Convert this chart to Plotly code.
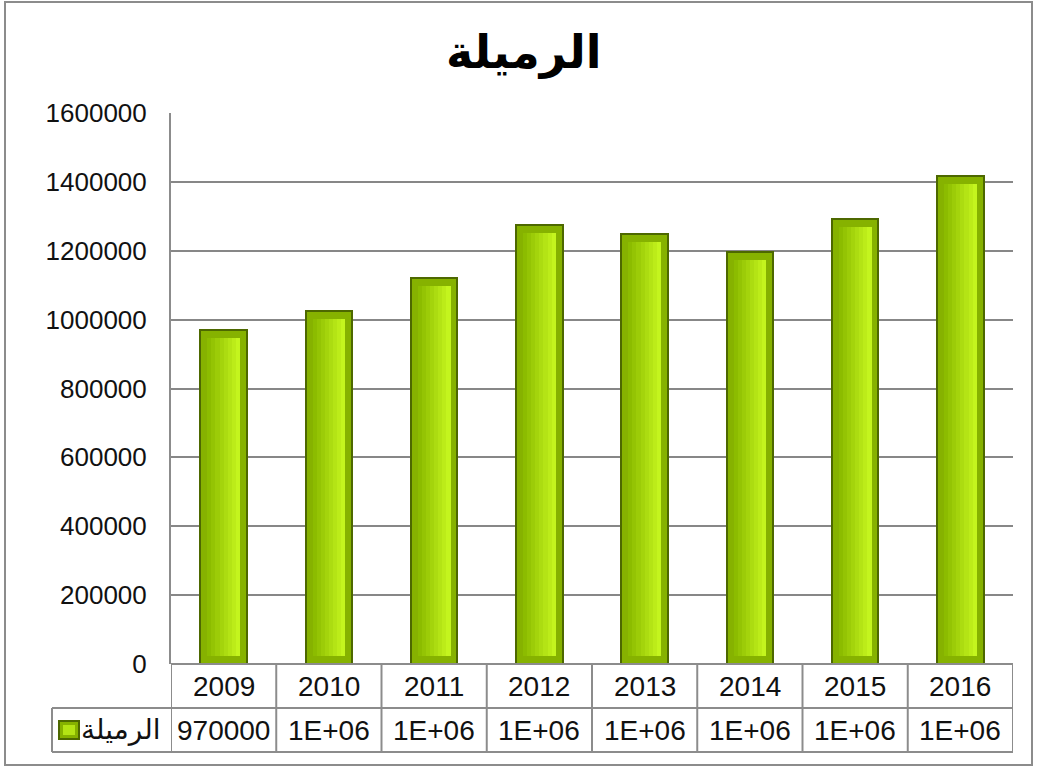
import plotly.graph_objects as go

# ---- data ----
years = ["2009", "2010", "2011", "2012", "2013", "2014", "2015", "2016"]
values = [970000, 1025000, 1122000, 1275000, 1250000, 1196000, 1291000, 1416000]
series_name = "الرميلة"
y_ticks = [0, 200000, 400000, 600000, 800000, 1000000, 1200000, 1400000, 1600000]

# ---- layout geometry (pixels) ----
W, H = 1037, 767
L, R, T, B = 171, 1013, 113, 664
YMAX = 1600000


def px_x(x):
    return (x - L) / (R - L)


def px_y(y):
    return (B - y) / (B - T)


def excel_general(v):
    return f"{v:.0E}" if v >= 1e6 else str(v)


FONT = "Liberation Sans, DejaVu Sans, sans-serif"
GRID = "#878787"
BORDER = "#8c8c8c"

fig = go.Figure()

bar_w = 0.44
inset_x = 0.065
bevel = 8 * YMAX / (B - T)
idx = list(range(len(years)))

# outer bar (outline + bevel colour)
fig.add_trace(go.Bar(
    x=idx, y=values, width=bar_w,
    marker=dict(color="#86b200", line=dict(color="#4d6800", width=2)),
    hoverinfo="skip", showlegend=False,
))

# inner face as gradient strips
inner_w = bar_w - 2 * inset_x
n_strips = 8
c0 = (0x8c, 0xbc, 0x00)
c1 = (0xc4, 0xf5, 0x1e)
sw = inner_w / n_strips
for i in range(n_strips):
    t = i / (n_strips - 1)
    col = "rgb(%d,%d,%d)" % tuple(int(a + (b - a) * t) for a, b in zip(c0, c1))
    fig.add_trace(go.Bar(
        x=idx, y=[v - 2 * bevel for v in values], base=bevel,
        width=sw * 1.02, offset=-inner_w / 2 + i * sw,
        marker=dict(color=col, line=dict(width=0)),
        hoverinfo="skip", showlegend=False,
    ))

shapes = []
line = dict(color=BORDER, width=2)
# outer chart border
shapes.append(dict(type="rect", xref="paper", yref="paper",
                   x0=px_x(5), x1=px_x(1032), y0=px_y(2), y1=px_y(765),
                   line=dict(color=BORDER, width=2), layer="below"))
# table horizontal lines
for yy in (708, 752):
    shapes.append(dict(type="line", xref="paper", yref="paper",
                       x0=px_x(52), x1=1, y0=px_y(yy), y1=px_y(yy), line=line))
shapes.append(dict(type="line", xref="paper", yref="paper",
                   x0=0, x1=1, y0=0, y1=0, line=line))
# table vertical lines at category boundaries
for k in range(len(years) + 1):
    shapes.append(dict(type="line", xref="x", yref="paper",
                       x0=k - 0.5, x1=k - 0.5, y0=0, y1=px_y(752), line=line))
# legend cell left edge
shapes.append(dict(type="line", xref="paper", yref="paper",
                   x0=px_x(52), x1=px_x(52), y0=px_y(708), y1=px_y(752), line=line))
# legend key
shapes.append(dict(type="rect", xref="paper", yref="paper",
                   x0=px_x(59), x1=px_x(79), y0=px_y(721), y1=px_y(739),
                   fillcolor="#86b200", line=dict(color="#4d6800", width=2)))
shapes.append(dict(type="rect", xref="paper", yref="paper",
                   x0=px_x(63), x1=px_x(75), y0=px_y(725), y1=px_y(735),
                   fillcolor="#b4e414", line=dict(width=0)))

TFONT = dict(family=FONT, size=28, color="#111")
annotations = []
for i, yr in enumerate(years):
    annotations.append(dict(x=i, y=px_y(686), xref="x", yref="paper", text=yr,
                            xanchor="center", yanchor="middle",
                            showarrow=False, font=TFONT))
    annotations.append(dict(x=i, y=px_y(730), xref="x", yref="paper",
                            text=excel_general(values[i]), xanchor="center",
                            yanchor="middle", showarrow=False, font=TFONT))
annotations.append(dict(x=px_x(163), y=px_y(730), xref="paper", yref="paper",
                        text=series_name, xanchor="right", yanchor="middle",
                        showarrow=False, font=TFONT))

fig.update_layout(
    width=W, height=H,
    margin=dict(l=L, r=W - R, t=T, b=H - B, pad=0),
    paper_bgcolor="white", plot_bgcolor="white",
    barmode="overlay", bargap=0,
    title=dict(text="<b>" + series_name + "</b>", x=0.505, xref="container",
               xanchor="center", y=1 - 52 / H, yanchor="middle",
               font=dict(family=FONT, size=46, color="black")),
    xaxis=dict(range=[-0.5, len(years) - 0.5], showticklabels=False,
               showgrid=False, zeroline=False, showline=False, ticks=""),
    yaxis=dict(range=[0, YMAX], tickvals=y_ticks, tickformat="d",
               showgrid=True, gridcolor=GRID, gridwidth=1.5,
               zeroline=False, showline=True, linecolor=BORDER, linewidth=2,
               ticks="", ticklabelstandoff=17,
               tickfont=dict(family=FONT, size=26, color="#111")),
    shapes=shapes, annotations=annotations,
)

fig.write_html("out.html")
